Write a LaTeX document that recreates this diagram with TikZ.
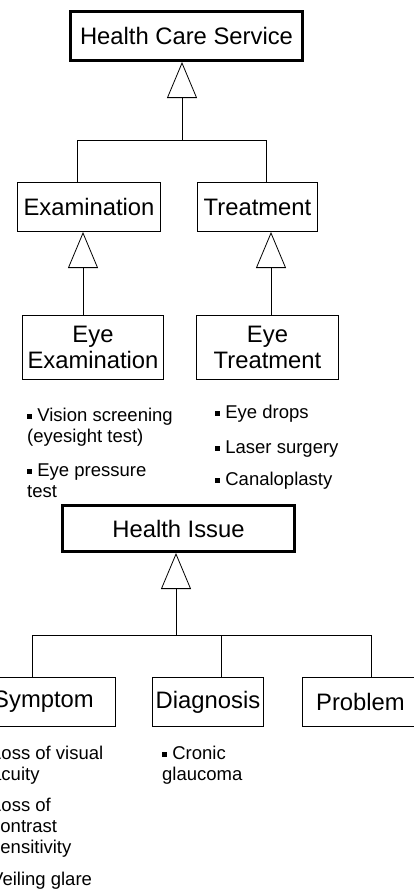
\documentclass[tikz,border=0pt]{standalone}
\usepackage{fontspec}
\setmainfont{Liberation Sans}
\usetikzlibrary{arrows.meta}
\newcommand{\bul}{\rule[0.12em]{0.28em}{0.28em}\hspace{0.27em}}
\newcommand{\hbul}{\llap{\bul}}
\tikzset{
  box/.style={draw, line width=0.8pt, inner sep=0pt, align=center, font=\fontsize{23.8}{26}\selectfont},
  topbox/.style={box, line width=2.6pt},
  items/.style={inner sep=0pt, align=left, anchor=base west, font=\fontsize{18.5}{21}\selectfont},
  gen/.style={line width=0.8pt, -{Triangle[open, length=36pt, width=30pt, line width=0.8pt]}},
  link/.style={line width=0.8pt}
}
\begin{document}
\begin{tikzpicture}[x=1pt, y=-1pt]
\useasboundingbox (0,0) rectangle (414,894);
\clip (0,0) rectangle (414,894);
% services
\node[topbox, minimum width=232.4, minimum height=49.4] (hcs) at (186.5,36) {Health Care Service};
\node[box, minimum width=143.2, minimum height=49.2] (exam) at (89,207) {Examination};
\node[box, minimum width=120.2, minimum height=49.2] (treat) at (257.5,207) {Treatment};
\node[box, minimum width=141.2, minimum height=64.2] (eyeexam) at (93,347.5) {Eye\\Examination};
\node[box, minimum width=142.2, minimum height=64.2] (eyetreat) at (267.5,347.5) {Eye\\Treatment};
\coordinate (j1) at (182,140);
\coordinate (e1) at (77,140);
\coordinate (t1) at (266,140);
\coordinate (e2) at (83,300);
\coordinate (t2) at (271,300);
\draw[gen] (j1) -- (hcs.south -| j1);
\draw[link] (exam.north -| e1) |- (t1) -- (treat.north -| t1);
\draw[gen] (eyeexam.north -| e2) -- (exam.south -| e2);
\draw[gen] (eyetreat.north -| t2) -- (treat.south -| t2);
% base = last line
\node[items] (ex1) at (27,442) {\bul Vision screening\\(eyesight test)};
\node[items] (ex2) at (27,497) {\bul Eye pressure\\test};
\node[items] (tr1) at (215,418) {\bul Eye drops};
\node[items] (tr2) at (215,453) {\bul Laser surgery};
\node[items] (tr3) at (215,485) {\bul Canaloplasty};
% issues
\node[topbox, minimum width=232.4, minimum height=46.4] (issue) at (178.5,528.5) {Health Issue};
\node[box, minimum width=144.2, minimum height=49.2] (symptom) at (43.5,702) {Symptom};
\node[box, minimum width=111.2, minimum height=49.2] (diag) at (208,702) {Diagnosis};
\node[box, minimum width=116.2, minimum height=49.2] (problem) at (360.5,702) {Problem};
\coordinate (j2) at (176,635);
\coordinate (s1) at (32,635);
\coordinate (d1) at (221,635);
\coordinate (p1) at (371,635);
\draw[gen] (j2) -- (issue.south -| j2);
\draw[link] (symptom.north -| s1) |- (p1) -- (problem.north -| p1);
\draw[link] (d1) -- (diag.north -| d1);
\node[items] (sy1) at (-9,780) {\hbul Loss of visual\\acuity};
\node[items] (sy2) at (-9,853) {\hbul Loss of\\contrast\\sensitivity};
\node[items] (sy3) at (-9,885) {\hbul Veiling glare};
\node[items] (dg1) at (162,780) {\bul Cronic\\glaucoma};
\end{tikzpicture}
\end{document}
